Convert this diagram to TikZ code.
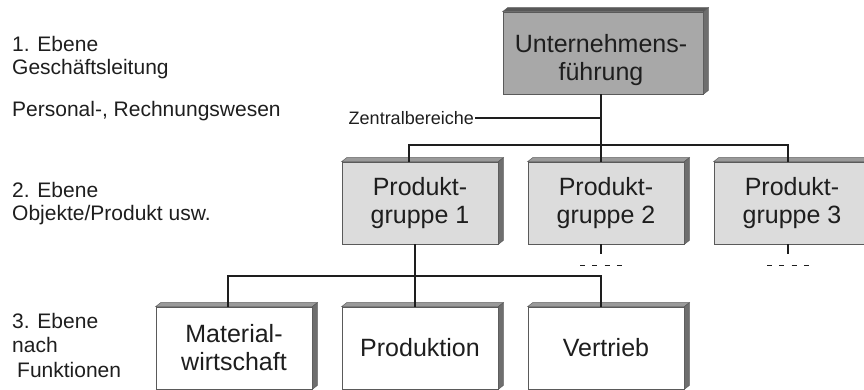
\documentclass[tikz,border=0pt]{standalone}
\usepackage{fontspec}
\setmainfont{Liberation Sans}
\usetikzlibrary{calc}
\definecolor{ink}{HTML}{1E1E1E}
\definecolor{edgegray}{HTML}{5A5A5A}
\definecolor{headfill}{HTML}{A8A8A8}
\definecolor{groupfill}{HTML}{DCDCDC}
\definecolor{facetop}{HTML}{9A9A9A}
\definecolor{faceside}{HTML}{6E6E6E}
\newcommand\bxfont{\fontsize{25}{28}\selectfont}
\newcommand\lblfont{\fontsize{21}{23}\selectfont}
\newcommand\smfont{\fontsize{18}{20}\selectfont}
% top and right faces of a raised box
\newcommand\cubefaces[3]{%
  \filldraw[fill=#2, draw=edgegray, line width=0.5pt]
    (#1.north west) -- ++(5,-4) -- ($(#1.north east)+(5,-4)$) -- (#1.north east) -- cycle;
  \filldraw[fill=#3, draw=edgegray, line width=0.5pt]
    (#1.north east) -- ++(5,-4) -- ($(#1.south east)+(5,-4)$) -- (#1.south east) -- cycle;}
\begin{document}
\begin{tikzpicture}[x=1pt,y=-1pt,
  box/.style={rectangle, draw=edgegray, line width=0.7pt, minimum width=156pt,
    minimum height=82pt, inner sep=0pt, align=center, font=\bxfont, text=ink},
  lbl/.style={anchor=base west, inner sep=0pt, font=\lblfont, text=ink},
  conn/.style={draw=ink, line width=1.8pt},
  dots/.style={draw=ink, line width=1.6pt, dash pattern=on 5pt off 7.3pt},
]
\useasboundingbox (0,0) rectangle (864,390);
\clip (0,0) rectangle (864,390);

% boxes
\node[box, fill=headfill, minimum width=200pt] (top) at (603,53) {};
\node[inner sep=0pt, align=center, font=\bxfont, text=ink] (toptxt) at (601,60) {Unternehmens-\\führung};
\node[box, fill=groupfill] (p1) at (420,203) {Produkt-\\gruppe 1};
\node[box, fill=groupfill] (p2) at (606,203) {Produkt-\\gruppe 2};
\node[box, fill=groupfill] (p3) at (792,203) {Produkt-\\gruppe 3};
\node[box, fill=white] (m1) at (234,348) {Material-\\wirtschaft};
\node[box, fill=white] (m2) at (420,348) {Produktion};
\node[box, fill=white] (m3) at (606,348) {Vertrieb};

\cubefaces{top}{faceside!80!black}{faceside}
\foreach \n in {p1,p2,p3,m1,m2,m3}{\cubefaces{\n}{facetop}{faceside}}

% level labels
\node[lbl] (e1) at (12,52) {1. Ebene};
\node[lbl] (e1b) at (12,75) {Geschäftsleitung};
\node[lbl] (zw) at (12,117) {Personal-, Rechnungswesen};
\node[lbl] (e2) at (12,197) {2. Ebene};
\node[lbl] (e2b) at (12,220) {Objekte/Produkt usw.};
\node[lbl] (e3) at (12,328) {3. Ebene};
\node[lbl] (e3b) at (12,352) {nach};
\node[lbl] (e3c) at (17,377) {Funktionen};
\node[anchor=base east, inner sep=0pt, font=\smfont, text=ink] (zb) at (474,124.5) {Zentralbereiche};

% connection points
\coordinate (tb) at ([xshift=-2pt]top.south);
\coordinate (p1t) at ([xshift=-11pt]p1.north);
\coordinate (p2t) at ([xshift=-5pt]p2.north);
\coordinate (p3t) at ([xshift=-4pt]p3.north);
\coordinate (p1b) at ([xshift=-5pt]p1.south);
\coordinate (p2b) at ([xshift=-5pt]p2.south);
\coordinate (p3b) at ([xshift=-4pt]p3.south);
\coordinate (m1t) at ([xshift=-6pt]m1.north);
\coordinate (m3t) at ([xshift=-5pt]m3.north);
\coordinate (bus2) at (0,145);
\coordinate (bus3) at (0,276);

% connectors
\draw[conn] (tb) -- (p2t);
\draw[conn] ([xshift=1pt]zb.east) -- (zb.east -| tb);
\draw[conn] (p1t) -- (p1t |- bus2) -- (p3t |- bus2) -- (p3t);
\draw[conn] (p1b) -- (p1b |- m2.north);
\draw[conn] (m1t) -- (m1t |- bus3) -- (m3t |- bus3) -- (m3t);
\draw[conn] (p2b) -- ++(0,10) coordinate (d2);
\draw[conn] (p3b) -- ++(0,10) coordinate (d3);
\draw[dots] ($(d2)+(-21,11)$) -- ($(d2)+(21,11)$);
\draw[dots] ($(d3)+(-21,11)$) -- ($(d3)+(21,11)$);
\end{tikzpicture}
\end{document}
